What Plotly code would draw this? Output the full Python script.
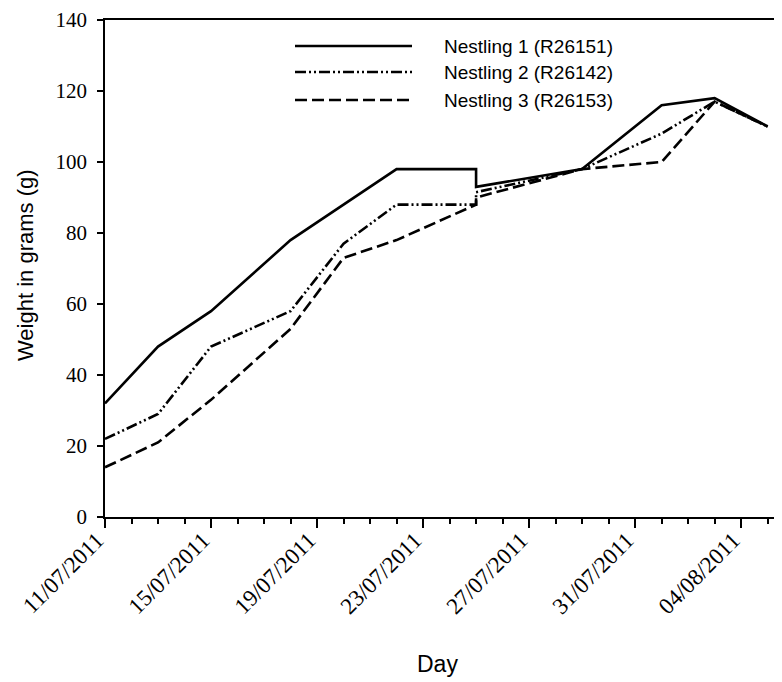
import plotly.graph_objects as go

# ---- data ----
dates_n1 = ["2011-07-11", "2011-07-13", "2011-07-15", "2011-07-18", "2011-07-22",
            "2011-07-25", "2011-07-25", "2011-07-29", "2011-08-01", "2011-08-03", "2011-08-05"]
weights_n1 = [32, 48, 58, 78, 98, 98, 93, 98, 116, 118, 110]

dates_n2 = ["2011-07-11", "2011-07-13", "2011-07-15", "2011-07-18", "2011-07-20",
            "2011-07-22", "2011-07-25", "2011-07-25", "2011-07-29", "2011-08-01", "2011-08-03", "2011-08-05"]
weights_n2 = [22, 29, 48, 58, 77, 88, 88, 91.5, 98, 108, 117, 110]

dates_n3 = ["2011-07-11", "2011-07-13", "2011-07-15", "2011-07-18", "2011-07-20",
            "2011-07-22", "2011-07-25", "2011-07-25", "2011-07-29", "2011-08-01", "2011-08-03", "2011-08-05"]
weights_n3 = [14, 21, 33, 53, 73, 78, 88, 90, 98, 100, 117, 110]

series_names = ["Nestling 1 (R26151)", "Nestling 2 (R26142)", "Nestling 3 (R26153)"]
y_ticks = [0, 20, 40, 60, 80, 100, 120, 140]

# ---- styles ----
dash_styles = ["solid", "11px,3px,2px,3px,2px,3px", "12px,5px"]
LINE_W = 2.6

# page offset (browser body margin)
OFF = 8
FIG_W, FIG_H = 782 - OFF, 682 - OFF

# plot area in viewport pixels (as in reference)
PLOT_TOP, PLOT_BOT = 20, 517
L, R = 105, 782
H = PLOT_BOT - PLOT_TOP
W = R - L

def px_to_paper_x(px):
    return (px - L) / W

def px_to_paper_y(py):
    return (PLOT_BOT - py) / H

fig = go.Figure()
for xs, ys, name, dash in zip([dates_n1, dates_n2, dates_n3],
                              [weights_n1, weights_n2, weights_n3],
                              series_names, dash_styles):
    fig.add_trace(go.Scatter(x=xs, y=ys, mode="lines", name=name, showlegend=False,
                             line=dict(color="black", width=LINE_W, dash=dash)))

# manual legend (long line samples as in the reference)
leg_y = [46, 72, 100]
for name, dash, ly in zip(series_names, dash_styles, leg_y):
    fig.add_shape(type="line", xref="paper", yref="paper",
                  x0=px_to_paper_x(295), x1=px_to_paper_x(412),
                  y0=px_to_paper_y(ly), y1=px_to_paper_y(ly),
                  line=dict(color="black", width=LINE_W, dash=dash))
    fig.add_annotation(text=name, xref="paper", yref="paper",
                       x=px_to_paper_x(442), y=px_to_paper_y(ly),
                       xanchor="left", yanchor="middle", showarrow=False,
                       font=dict(family="Liberation Sans, Arial", size=19, color="black"))

# axis titles
fig.add_annotation(text="Day", xref="paper", yref="paper",
                   x=px_to_paper_x(437), y=px_to_paper_y(664),
                   xanchor="center", yanchor="middle", showarrow=False,
                   font=dict(family="Liberation Sans, Arial", size=23, color="black"))
fig.add_annotation(text="Weight in grams (g)", xref="paper", yref="paper",
                   x=px_to_paper_x(25), y=px_to_paper_y(265), textangle=-90,
                   xanchor="center", yanchor="middle", showarrow=False,
                   font=dict(family="Liberation Sans, Arial", size=22, color="black"))

fig.update_layout(
    width=FIG_W, height=FIG_H,
    margin=dict(l=L - OFF, r=782 - R, t=PLOT_TOP - OFF, b=682 - PLOT_BOT, pad=0),
    paper_bgcolor="white", plot_bgcolor="white",
    showlegend=False,
)
fig.update_xaxes(
    type="date",
    range=["2011-07-11", "2011-08-05 13:00"],
    tick0="2011-07-11", dtick=4 * 86400000,
    tickformat="%d/%m/%Y", tickangle=-45,
    ticks="outside", ticklen=9, tickwidth=1.5, tickcolor="black",
    minor=dict(dtick=86400000, ticks="outside", ticklen=5, tickwidth=1.5, tickcolor="black", showgrid=False),
    showline=True, linecolor="black", linewidth=1.5, mirror=True,
    showgrid=False, zeroline=False,
    ticklabelstandoff=-10, ticklabelshift=-8,
    tickfont=dict(family="Liberation Serif, Times New Roman", size=23, color="black"),
)
fig.update_yaxes(
    range=[0, 140], tickvals=y_ticks,
    ticks="outside", ticklen=6, tickwidth=1.5, tickcolor="black",
    showline=True, linecolor="black", linewidth=1.5,
    showgrid=False, zeroline=False,
    ticklabelstandoff=6,
    tickfont=dict(family="Liberation Serif, Times New Roman", size=21, color="black"),
)

fig.write_html("out.html")
